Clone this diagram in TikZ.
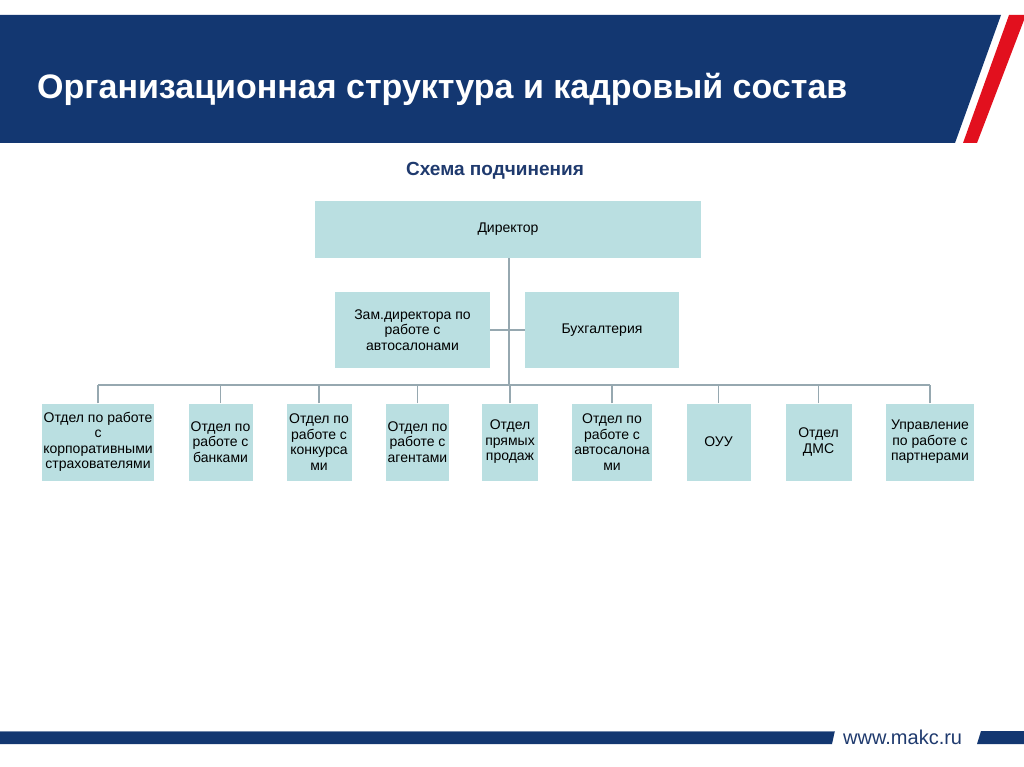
\documentclass[tikz,border=0pt]{standalone}
\usepackage{fontspec}
\setmainfont{Liberation Sans}
\definecolor{hdr}{RGB}{19,55,113}
\definecolor{boxfill}{RGB}{186,223,225}
\definecolor{conn}{RGB}{150,168,176}
\definecolor{redst}{RGB}{226,16,30}
\definecolor{subt}{RGB}{31,58,110}
\begin{document}
\begin{tikzpicture}[x=1pt,y=-1pt,
  orgbox/.style={fill=boxfill,draw=none,inner sep=0pt,align=center,
    font=\fontsize{14}{15.5}\selectfont,text=black},
  bottombox/.style={orgbox,minimum height=77pt},
  link/.style={draw=conn,line width=1.4pt}]
\useasboundingbox (0,0) rectangle (1024,767);
\fill[white] (0,0) rectangle (1024,767);
% header
\fill[hdr] (0,15) -- (1001,15) -- (955,143) -- (0,143) -- cycle;
\fill[redst] (1009,15) -- (1024,15) -- (1024,20) -- (977,143) -- (963,143) -- cycle;
\node[anchor=base west,text=white,font=\fontsize{34}{40}\selectfont\bfseries,inner sep=0pt] (title) at (37,99) {Организационная структура и кадровый состав};
\node[text=subt,font=\fontsize{19}{22}\selectfont\bfseries,inner sep=0pt] (sub) at (495,171) {Схема подчинения};
% top boxes
\node[orgbox,minimum width=386pt,minimum height=57pt] (dir) at (508,229.5) {Директор};
\node[orgbox,minimum width=155pt,minimum height=76pt] (zam) at (412.5,330) {Зам.директора по\\работе с\\автосалонами};
\node[orgbox,minimum width=154pt,minimum height=76pt] (buh) at (602,330) {Бухгалтерия};
% bottom boxes
\node[bottombox,minimum width=112pt] (b1) at (98,442) {Отдел по работе\\с\\корпоративными\\страхователями};
\node[bottombox,minimum width=64pt] (b2) at (220.5,442) {Отдел по\\работе с\\банками};
\node[bottombox,minimum width=65pt] (b3) at (319,442) {Отдел по\\работе с\\конкурса\\ми};
\node[bottombox,minimum width=63pt] (b4) at (417.5,442) {Отдел по\\работе с\\агентами};
\node[bottombox,minimum width=56pt] (b5) at (510,442) {Отдел\\прямых\\продаж};
\node[bottombox,minimum width=80pt] (b6) at (612,442) {Отдел по\\работе с\\автосалона\\ми};
\node[bottombox,minimum width=64pt] (b7) at (718.5,442) {ОУУ};
\node[bottombox,minimum width=66pt] (b8) at (818.5,442) {Отдел\\ДМС};
\node[bottombox,minimum width=88pt] (b9) at (930,442) {Управление\\по работе с\\партнерами};
% connectors
\coordinate (bus) at (509,385);
\draw[link] (dir.south -| bus) -- (bus);
\draw[link] (zam.east) -- (buh.west);
\draw[link] (b1.north |- bus) -- (b9.north |- bus);
\foreach \b in {b1,b2,b3,b4,b5,b6,b7,b8,b9}{
  \draw[link] (\b.north) -- (\b.north |- bus);
}
% footer
\fill[hdr!60!white] (0,731) -- (835,731) -- (834.6,732.2) -- (0,732.2) -- cycle;
\fill[hdr] (0,732.2) -- (834.6,732.2) -- (832,744) -- (0,744) -- cycle;
\fill[hdr] (981,731) -- (1024,731) -- (1024,744) -- (977,744) -- cycle;
\node[anchor=base west,text=subt,font=\fontsize{20}{24}\selectfont,inner sep=0pt] (url) at (843,744) {www.makc.ru};
\end{tikzpicture}
\end{document}
